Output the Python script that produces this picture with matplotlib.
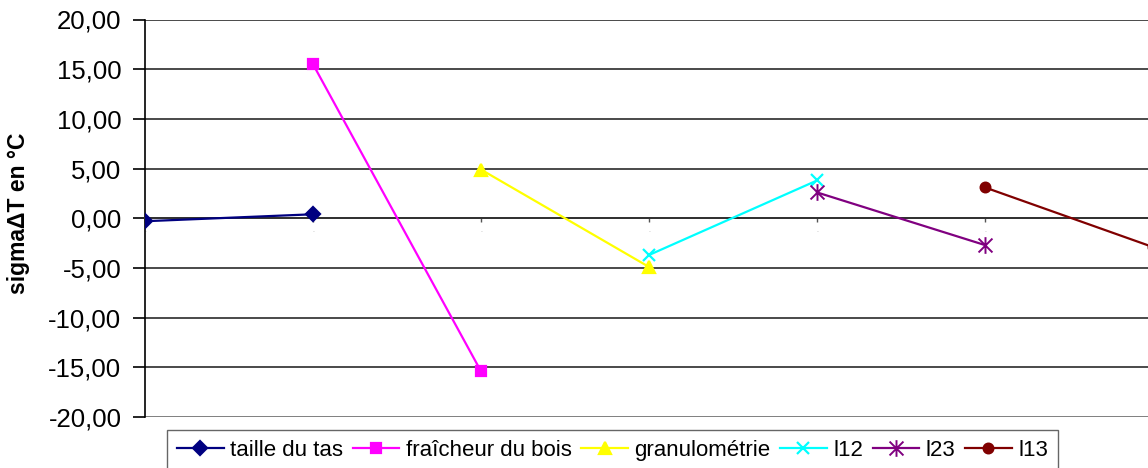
import matplotlib.pyplot as plt
from matplotlib.path import Path
from matplotlib.ticker import FixedLocator

plt.rcParams['font.family'] = ['Liberation Sans', 'DejaVu Sans']

# each series joins two neighbouring categories
taille_x = [0, 1]
taille_y = [-0.3, 0.4]
fraicheur_x = [1, 2]
fraicheur_y = [15.5, -15.4]
granulo_x = [2, 3]
granulo_y = [4.9, -4.9]
l12_x = [3, 4]
l12_y = [-3.7, 3.8]
l23_x = [4, 5]
l23_y = [2.6, -2.7]
l13_x = [5, 6]
l13_y = [3.1, -2.9]

y_ticks = [-20, -15, -10, -5, 0, 5, 10, 15, 20]
y_labels = ["-20,00", "-15,00", "-10,00", "-5,00", "0,00",
            "5,00", "10,00", "15,00", "20,00"]

# star marker: an X crossed by a vertical stroke
star = Path([(-1, -1), (1, 1), (-1, 1), (1, -1), (0, -1.2), (0, 1.2)],
            [Path.MOVETO, Path.LINETO, Path.MOVETO, Path.LINETO,
             Path.MOVETO, Path.LINETO])

fig = plt.figure(figsize=(11.48, 4.68), dpi=100)
ax = fig.add_axes([145 / 1148, 51 / 468, 1008 / 1148, 397.5 / 468])

# horizontal grid, darker than the frame bottom
for yv in y_ticks:
    col = "#7f7f7f" if yv == -20 else "#4a4a4a"
    ax.axhline(yv, color=col, lw=1.4, zorder=0)

series = [
    (taille_x, taille_y, "taille du tas", "#000080", "D", 7.5, 1.6),
    (fraicheur_x, fraicheur_y, "fraîcheur du bois", "#FF00FF", "s", 7, 1.6),
    (granulo_x, granulo_y, "granulométrie", "#FFFF00", "^", 9, 1.6),
    (l12_x, l12_y, "l12", "#00FFFF", "x", 8, 1.6),
    (l23_x, l23_y, "l23", "#800080", star, 12, 1.4),
    (l13_x, l13_y, "l13", "#800000", "o", 7, 1.6),
]
for xs, ys, name, col, mk, ms, mew in series:
    ax.plot(xs, ys, color=col, lw=1.6, marker=mk, markersize=ms,
            markeredgewidth=mew, label=name, zorder=3)

ax.set_xlim(0, 6)
ax.set_ylim(-20, 20)
ax.yaxis.set_major_locator(FixedLocator(y_ticks))
ax.set_yticklabels(y_labels, fontsize=18.5)
ax.tick_params(axis='y', direction='out', length=9, width=1.2, pad=8)

# category axis crossing at zero, with blank labels
ax.spines['bottom'].set_position(('data', 0))
ax.spines['bottom'].set_color("#333333")
ax.spines['bottom'].set_linewidth(1.4)
ax.set_xticks([0, 1, 2, 3, 4, 5])
ax.set_xticklabels(["."] * 6, fontsize=5, color="#aaaaaa")
ax.tick_params(axis='x', direction='out', length=3, width=1, colors="#555555",
               pad=3, labelcolor="#aaaaaa")
ax.spines['top'].set_visible(False)
ax.spines['right'].set_visible(False)
ax.spines['left'].set_color("black")
ax.spines['left'].set_linewidth(1.2)

fig.text(19 / 1148, 0.545, "sigmaΔT en °C", rotation=90, fontsize=16.5,
         fontweight='bold', ha='center', va='center')

leg = fig.legend(loc='upper left', bbox_to_anchor=(167 / 1148, 1 - 430 / 468),
                 ncol=6, fontsize=16, frameon=True, fancybox=False,
                 handlelength=2.1, handletextpad=0.3, columnspacing=0.42,
                 borderpad=0.45, borderaxespad=0)
leg.get_frame().set_edgecolor("#404040")
leg.get_frame().set_linewidth(1.0)

fig.savefig("out.png", dpi=100)
